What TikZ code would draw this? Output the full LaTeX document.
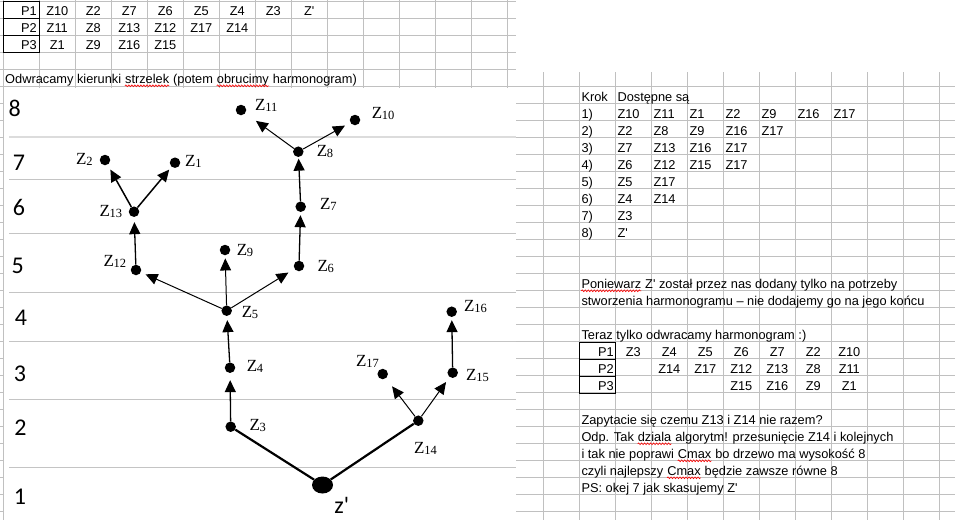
\documentclass[tikz,border=0pt]{standalone}
\usepackage{fontspec}
\setmainfont{Liberation Sans}
\newfontfamily\serifz{Liberation Serif}
\newfontfamily\levelfont{Carlito}
\usetikzlibrary{arrows.meta,shapes.geometric,decorations.pathmorphing}
\definecolor{gridgray}{RGB}{192,192,192}
\definecolor{levelgray}{RGB}{196,196,196}
\newcommand\zsub[1]{{\serifz\fontsize{17}{17}\selectfont Z\kern-0.3pt\raisebox{-1.2pt}{\fontsize{12.5}{12.5}\selectfont #1}}}
\newcommand\zp{Z\textquotesingle}
\tikzset{
  cell/.style={font=\fontsize{12.8}{15}\selectfont, inner sep=0pt, anchor=base},
  cellw/.style={cell, anchor=base west},
  celle/.style={cell, anchor=base east},
  job/.style={circle, fill, inner sep=0pt, minimum size=10.5pt},
  zlab/.style={inner sep=0pt, anchor=base west},
  lvl/.style={font=\levelfont\fontsize{24}{24}\selectfont, inner sep=0pt},
  dep/.style={-{Triangle[length=12pt,width=11pt]}, line width=1pt, shorten >=5pt},
  levelline/.style={levelgray, line width=1pt},
  typo/.style={red, line width=0.6pt, decorate, decoration={snake, amplitude=0.9pt, segment length=3pt}}
}
\begin{document}
\begin{tikzpicture}[x=1pt,y=-1pt]
\useasboundingbox (0,0) rectangle (955,520);
% sheet grid, picture and blank area over it
\foreach \gx in {0,...,26} \draw[gridgray, line width=0.8pt] (3.3+36*\gx,0) -- (3.3+36*\gx,520);
\foreach \gy in {0,...,30} \draw[gridgray, line width=0.8pt] (0,1.7+17*\gy) -- (955,1.7+17*\gy);
\fill[white] (4,88.2) rectangle (516,520);
\fill[white] (516,0) rectangle (955,71.5);

% top table
\draw[line width=0.9pt] (3.3,1.7) rectangle (39.3,52.7) (3.3,18.7) -- (39.3,18.7) (3.3,35.7) -- (39.3,35.7);
\path (37,15.5) node[celle](q1){P1}   (57.3,15.5) node[cell](q1a){Z10} (93.3,15.5) node[cell](q1b){Z2}
      (129.3,15.5) node[cell](q1c){Z7} (165.3,15.5) node[cell](q1d){Z6} (201.3,15.5) node[cell](q1e){Z5}
      (237.3,15.5) node[cell](q1f){Z4} (273.3,15.5) node[cell](q1g){Z3} (309.3,15.5) node[cell](q1h){\zp};
\path (37,32.5) node[celle](q2){P2}   (57.3,32.5) node[cell](q2a){Z11} (93.3,32.5) node[cell](q2b){Z8}
      (129.3,32.5) node[cell](q2c){Z13} (165.3,32.5) node[cell](q2d){Z12} (201.3,32.5) node[cell](q2e){Z17}
      (237.3,32.5) node[cell](q2f){Z14};
\path (37,49.5) node[celle](q3){P3}   (57.3,49.5) node[cell](q3a){Z1} (93.3,49.5) node[cell](q3b){Z9}
      (129.3,49.5) node[cell](q3c){Z16} (165.3,49.5) node[cell](q3d){Z15};
\node[cellw] (note) at (5,83.5) {Odwracamy kierunki\ \null};
\node[cellw] (noteA) at (note.base east) {strzelek};
\node[cellw] (noteB) at (noteA.base east) {\ (potem\ \null};
\node[cellw] (noteC) at (noteB.base east) {obrucimy};
\node[cellw] (noteD) at (noteC.base east) {\ harmonogram)};
\draw[typo] ([yshift=-2.3pt]noteA.base west) -- ([yshift=-2.3pt]noteA.base east);
\draw[typo] ([yshift=-2.3pt]noteC.base west) -- ([yshift=-2.3pt]noteC.base east);

% levels
\draw[levelgray!60, line width=2pt] (9,137.3) -- (516,137.3);
\draw[levelline] (9,179.3) -- (516,179.3);
\draw[levelline] (9,233.3) -- (516,233.3);
\draw[levelline] (9,292.3) -- (516,292.3);
\draw[levelline] (9,341.7) -- (516,341.7);
\draw[levelline] (9,399.3) -- (516,399.3);
\draw[levelline] (9,467.3) -- (516,467.3);
\path (14.7,108.3) node[lvl](l8){8} (19,162.5) node[lvl](l7){7} (19,207.5) node[lvl](l6){6}
      (17.7,265.8) node[lvl](l5){5} (21,317.5) node[lvl](l4){4} (20,373.8) node[lvl](l3){3}
      (20.5,427.5) node[lvl](l2){2} (20,496.7) node[lvl](l1){1};

% tree
\draw (241,110) node[job](z11){}   (355,120) node[job](z10){}   (298.3,151.7) node[job](z8){}
      (105,160) node[job](z2){}    (175,162.7) node[job](z1){}  (134,211.7) node[job](z13){}
      (300.7,206.7) node[job](z7){} (225,250) node[job](z9){}   (136,270) node[job](z12){}
      (299,266) node[job](z6){}    (226.7,310.7) node[job](z5){} (451.7,311.7) node[job](z16){}
      (230,367.7) node[job](z4){}  (382.7,374) node[job](z17){} (452.7,372.7) node[job](z15){}
      (230.7,426.7) node[job](z3){} (418.3,420.7) node[job](z14){};
\node[ellipse, fill, inner sep=0pt, minimum width=21pt, minimum height=17pt] (zs) at (322.5,485) {};
\path (255,110) node[zlab](t11){\zsub{11}}   (371.7,118.3) node[zlab](t10){\zsub{10}}
      (316.7,156.7) node[zlab](t8){\zsub{8}}  (76,164) node[zlab](t2){\zsub{2}}
      (185,166) node[zlab](t1){\zsub{1}}      (99.3,216.7) node[zlab](t13){\zsub{13}}
      (320,209) node[zlab](t7){\zsub{7}}      (236.7,255) node[zlab](t9){\zsub{9}}
      (103.3,266.7) node[zlab](t12){\zsub{12}} (317.3,271.7) node[zlab](t6){\zsub{6}}
      (241.7,317.3) node[zlab](t5){\zsub{5}}  (464,311) node[zlab](t16){\zsub{16}}
      (246.7,371.7) node[zlab](t4){\zsub{4}}  (356,366) node[zlab](t17){\zsub{17}}
      (466,380) node[zlab](t15){\zsub{15}}    (249.3,430) node[zlab](t3){\zsub{3}}
      (414,453) node[zlab](t14){\zsub{14}};
\node[lvl] (ts) at (341.7,505) {z\textquotesingle};
\path[dep]
     (z5) edge (z12)
     (z5) edge[shorten >=3pt] (z9)
     (z5) edge[shorten >=7pt] (z6)
     (z12) edge[line width=1.3pt] (z13)
     (z13) edge[line width=1.5pt, shorten >=5.5pt] (z2)
     (z13) edge[line width=1.5pt, shorten >=3.5pt] (z1)
     (z6) edge[line width=1.3pt, shorten >=3pt] (z7)
     (z7) edge[line width=1.3pt, shorten >=1.5pt] (z8)
     (z8) edge[shorten >=13pt] (z11)
     (z8) edge[shorten >=6pt] (z10)
     (z3) edge[line width=1.3pt, shorten >=7pt] (z4)
     (z4) edge[line width=1.3pt, shorten >=4pt] (z5)
     (z14) edge[shorten >=10pt] (z17)
     (z14) edge[shorten >=6pt] (z15)
     (z15) edge[line width=1.3pt, shorten >=3pt] (z16);
\path[line width=2.2pt]
     (zs) edge (z3)
     (zs) edge (z14);

% right panel
\path (581.3,101.5) node[cellw](k0){Krok} (617.3,101.5) node[cellw](k0a){Dostępne są};
\path (581.3,118.5) node[cellw](k1){1)} (617.3,118.5) node[cellw](k1a){Z10} (653.3,118.5) node[cellw](k1b){Z11}
      (689.3,118.5) node[cellw](k1c){Z1} (725.3,118.5) node[cellw](k1d){Z2} (761.3,118.5) node[cellw](k1e){Z9}
      (797.3,118.5) node[cellw](k1f){Z16} (833.3,118.5) node[cellw](k1g){Z17};
\path (581.3,135.5) node[cellw](k2){2)} (617.3,135.5) node[cellw](k2a){Z2} (653.3,135.5) node[cellw](k2b){Z8}
      (689.3,135.5) node[cellw](k2c){Z9} (725.3,135.5) node[cellw](k2d){Z16} (761.3,135.5) node[cellw](k2e){Z17};
\path (581.3,152.5) node[cellw](k3){3)} (617.3,152.5) node[cellw](k3a){Z7} (653.3,152.5) node[cellw](k3b){Z13}
      (689.3,152.5) node[cellw](k3c){Z16} (725.3,152.5) node[cellw](k3d){Z17};
\path (581.3,169.5) node[cellw](k4){4)} (617.3,169.5) node[cellw](k4a){Z6} (653.3,169.5) node[cellw](k4b){Z12}
      (689.3,169.5) node[cellw](k4c){Z15} (725.3,169.5) node[cellw](k4d){Z17};
\path (581.3,186.5) node[cellw](k5){5)} (617.3,186.5) node[cellw](k5a){Z5} (653.3,186.5) node[cellw](k5b){Z17};
\path (581.3,203.5) node[cellw](k6){6)} (617.3,203.5) node[cellw](k6a){Z4} (653.3,203.5) node[cellw](k6b){Z14};
\path (581.3,220.5) node[cellw](k7){7)} (617.3,220.5) node[cellw](k7a){Z3};
\path (581.3,237.5) node[cellw](k8){8)} (617.3,237.5) node[cellw](k8a){\zp};

\node[cellw] (why1) at (581.3,288.5) {Poniewarz};
\node[cellw] (why1b) at (why1.base east) {\ \zp{} został przez nas dodany tylko na potrzeby};
\draw[typo] ([yshift=-2.3pt]why1.base west) -- ([yshift=-2.3pt]why1.base east);
\node[cellw] (why2) at (581.3,305.5) {stworzenia harmonogramu – nie dodajemy go na jego końcu};
\node[cellw] (now) at (581.3,339.5) {Teraz tylko odwracamy harmonogram :)};

% reversed schedule
\draw[line width=0.9pt] (579.3,342.7) rectangle (615.3,393.7) (579.3,359.7) -- (615.3,359.7) (579.3,376.7) -- (615.3,376.7);
\path (614,356.5) node[celle](r1){P1} (633.3,356.5) node[cell](r1a){Z3} (669.3,356.5) node[cell](r1b){Z4}
      (705.3,356.5) node[cell](r1c){Z5} (741.3,356.5) node[cell](r1d){Z6} (777.3,356.5) node[cell](r1e){Z7}
      (813.3,356.5) node[cell](r1f){Z2} (849.3,356.5) node[cell](r1g){Z10};
\path (614,373.5) node[celle](r2){P2} (669.3,373.5) node[cell](r2b){Z14} (705.3,373.5) node[cell](r2c){Z17}
      (741.3,373.5) node[cell](r2d){Z12} (777.3,373.5) node[cell](r2e){Z13} (813.3,373.5) node[cell](r2f){Z8}
      (849.3,373.5) node[cell](r2g){Z11};
\path (614,390.5) node[celle](r3){P3} (741.3,390.5) node[cell](r3d){Z15} (777.3,390.5) node[cell](r3e){Z16}
      (813.3,390.5) node[cell](r3f){Z9} (849.3,390.5) node[cell](r3g){Z1};

\node[cellw] (ask) at (581.3,424.5) {Zapytacie się czemu Z13 i Z14 nie razem?};
\node[cellw] (ans1) at (581.3,441.5) {Odp. Tak\ \null};
\node[cellw] (ans1a) at (ans1.base east) {dziala};
\node[cellw] (ans1b) at (ans1a.base east) {\ algorytm! przesunięcie Z14 i kolejnych};
\node[cellw] (ans2) at (581.3,458.5) {i tak nie poprawi\ \null};
\node[cellw] (ans2a) at (ans2.base east) {Cmax};
\node[cellw] (ans2b) at (ans2a.base east) {\ bo drzewo ma wysokość 8};
\node[cellw] (ans3) at (581.3,475.5) {czyli najlepszy\ \null};
\node[cellw] (ans3a) at (ans3.base east) {Cmax};
\node[cellw] (ans3b) at (ans3a.base east) {\ będzie zawsze równe 8};
\draw[typo] ([yshift=-2.3pt]ans1a.base west) -- ([yshift=-2.3pt]ans1a.base east);
\draw[typo] ([yshift=-2.3pt]ans2a.base west) -- ([yshift=-2.3pt]ans2a.base east);
\draw[typo] ([yshift=-2.3pt]ans3a.base west) -- ([yshift=-2.3pt]ans3a.base east);
\node[cellw] (ps) at (581.3,492.5) {PS: okej 7 jak skasujemy \zp};
\end{tikzpicture}
\end{document}
